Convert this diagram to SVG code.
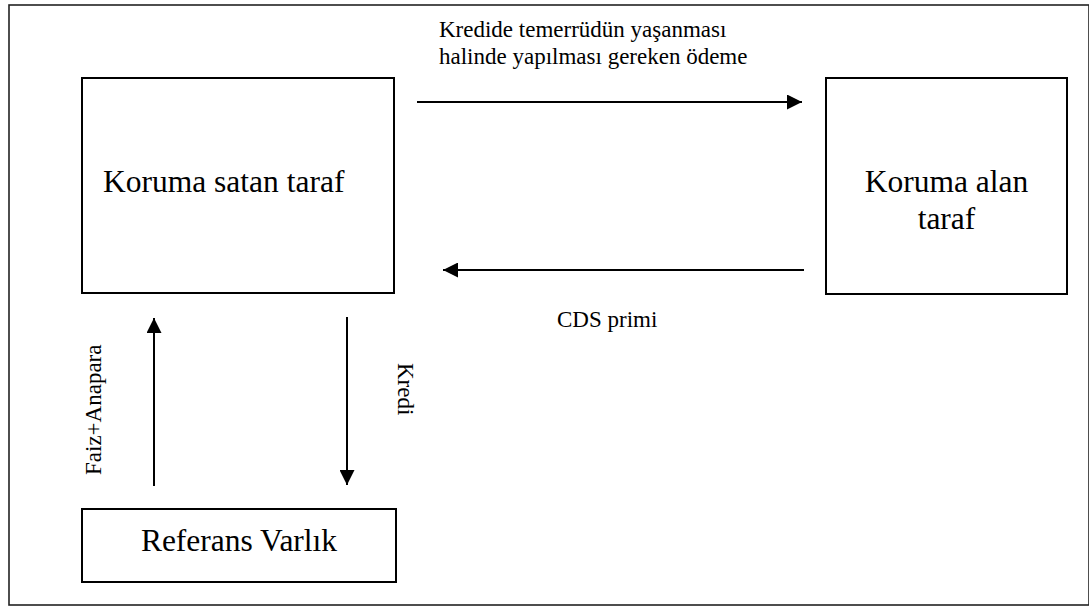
<svg xmlns="http://www.w3.org/2000/svg" width="1089" height="607" viewBox="0 0 1089 607">
<style>
  .box { fill: #fff; stroke: #000; stroke-width: 2; }
  .frame { fill: #fff; stroke: #222; stroke-width: 1.6; }
  text { font-family: "Liberation Serif", "DejaVu Serif", serif; fill: #000; }
  .big { font-size: 31.5px; }
  .small { font-size: 23px; }
  .conn { stroke: #000; stroke-width: 2; fill: none; marker-end: url(#ah); }
</style>
<defs>
  <marker id="ah" markerUnits="userSpaceOnUse" markerWidth="15" markerHeight="15" refX="15" refY="7.5" orient="auto">
    <path d="M0,0 L15,7.5 L0,15 z" fill="#000"/>
  </marker>
</defs>
<rect class="frame" x="9" y="5" width="1080" height="600"/>
<g id="connectors">
  <line class="conn" x1="417" y1="102" x2="802" y2="102"/>
  <line class="conn" x1="804" y1="270" x2="443" y2="270"/>
  <line class="conn" x1="154" y1="486" x2="154" y2="318"/>
  <line class="conn" x1="347" y1="317" x2="347" y2="485"/>
</g>
<g id="labels">
  <text class="small" x="439" y="37">Kredide temerrüdün yaşanması</text>
  <text class="small" x="439" y="64">halinde yapılması gereken ödeme</text>
  <text class="small" x="557" y="327">CDS primi</text>
  <text class="small" transform="translate(100.5,475) rotate(-90)">Faiz+Anapara</text>
  <text class="small" transform="translate(398,363) rotate(90)">Kredi</text>
</g>
<g id="node-satan">
  <rect class="box" x="82" y="78" width="312" height="215"/>
  <text class="big" x="103" y="192">Koruma satan taraf</text>
</g>
<g id="node-alan">
  <rect class="box" x="826" y="78" width="241" height="216"/>
  <text class="big" x="946.5" y="192" text-anchor="middle">Koruma alan</text>
  <text class="big" x="946.5" y="229" text-anchor="middle">taraf</text>
</g>
<g id="node-referans">
  <rect class="box" x="82" y="509" width="314" height="73"/>
  <text class="big" x="239" y="551" text-anchor="middle">Referans Varlık</text>
</g>
</svg>
